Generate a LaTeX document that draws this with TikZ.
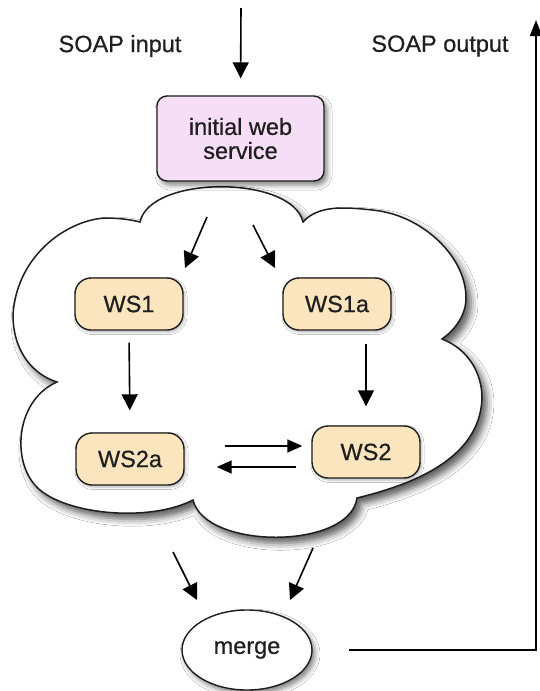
\documentclass[tikz,border=0pt]{standalone}
\usepackage{fontspec}
\setmainfont{Liberation Sans}
\newfontfamily\labelfont{Liberation Sans}[BoldFont={Liberation Sans},BoldFeatures={FakeBold=0.6}]
\usetikzlibrary{arrows.meta,shadows.blur,shapes.geometric}

\definecolor{wsfill}{RGB}{250,229,190}
\definecolor{initfill}{RGB}{246,222,246}
\definecolor{edge}{RGB}{30,30,30}

\begin{document}
\begin{tikzpicture}[x=1pt,y=-1pt,
  lbl/.style={font=\labelfont\bfseries\fontsize{23.5}{24}\selectfont, text=black!88, inner sep=0pt},
  softshadow/.style={blur shadow={shadow xshift=3pt, shadow yshift=-4pt,
      shadow blur radius=5pt, shadow opacity=50}},
  wsbox/.style={draw=edge, line width=1.4pt, fill=wsfill, rounded corners=16pt,
      minimum width=108pt, minimum height=52pt, lbl,
      blur shadow={shadow xshift=1.5pt, shadow yshift=-2pt,
      shadow blur radius=2.5pt, shadow opacity=30}},
  initbox/.style={draw=edge, line width=1.4pt, fill=initfill, rounded corners=10pt,
      minimum width=167pt, minimum height=85pt, align=center, lbl, softshadow},
  mergebox/.style={ellipse, draw=edge, line width=1.4pt, fill=white,
      minimum width=130pt, minimum height=80pt, lbl, softshadow},
  arr/.style={line width=1.6pt, draw=black, -{Triangle[length=16pt,width=16pt]}},
  plain/.style={line width=1.6pt, draw=black},
]
\useasboundingbox (0,0) rectangle (540,691);
\fill[white] (0,0) rectangle (540,691);

% cloud holding the composed services
\path[draw=edge, line width=1.5pt, fill=white,
      blur shadow={shadow xshift=5pt, shadow yshift=-6pt, shadow blur radius=7pt, shadow opacity=65}]
  (140,222) .. controls (150,175) and (292,175) .. (303,222)
  .. controls (318,205) and (345,207) .. (372,210)
  .. controls (420,214) and (466,255) .. (466,298)
  .. controls (466,315) and (455,330) .. (442,339)
  .. controls (470,350) and (482,375) .. (482,398)
  .. controls (480,460) and (410,485) .. (357,498)
  .. controls (350,550) and (205,550) .. (193,500)
  .. controls (150,522) and (70,515) .. (40,490)
  .. controls (10,465) and (15,400) .. (57,382)
  .. controls (20,370) and (8,330) .. (15,300)
  .. controls (25,250) and (70,220) .. (105,218)
  .. controls (120,218) and (132,220) .. (140,222) -- cycle;

% labels
\node[lbl] (inlabel) at (120,46) {SOAP input};
\node[lbl] (outlabel) at (440,46) {SOAP output};

% nodes
\node[initbox] (init) at (240.5,138.5) {initial web\\service};
\node[wsbox] (ws1) at (129,304) {WS1};
\node[wsbox] (ws1a) at (337,304) {WS1a};
\node[wsbox] (ws2a) at (130,459) {WS2a};
\node[wsbox] (ws2) at (366,452) {WS2};
\node[mergebox] (merge) at (247,650) {merge};

% free ends of connectors
\coordinate (src) at (241,8);
\coordinate (fan1s) at (207,217);
\coordinate (fan1e) at (185,268);
\coordinate (fan2s) at (253,225);
\coordinate (fan2e) at (275,268);
\coordinate (join1s) at (173,552);
\coordinate (join1e) at (197,600);
\coordinate (join2s) at (313,548);
\coordinate (join2e) at (290,600);
\coordinate (corner) at (536,650);
\coordinate (sink) at (536,20);

% connectors
\draw[arr, shorten >=17pt] (src) -- (init.north);
\draw[arr] (fan1s) -- (fan1e);
\draw[arr] (fan2s) -- (fan2e);
\draw[arr, shorten <=12pt, shorten >=22pt] (ws1.south) -- (ws2a.north);
\draw[arr, shorten <=13pt, shorten >=19pt] (ws1a.south -| ws2.north) -- (ws2.north);
\draw[arr, -{Triangle[length=15pt,width=13pt]}, shorten <=40pt, shorten >=9pt] (ws2a.east |- 0,446) -- (ws2.west |- 0,446);
\draw[arr, -{Triangle[length=15pt,width=13pt]}, shorten <=15pt, shorten >=32pt] (ws2.west |- 0,467) -- (ws2a.east |- 0,467);
\draw[arr] (join1s) -- (join1e);
\draw[arr] (join2s) -- (join2e);
\draw[plain, -{Triangle[length=16pt,width=12pt]}, shorten <=36pt]
  (merge.east) -- (corner) -- (sink);
\end{tikzpicture}
\end{document}
